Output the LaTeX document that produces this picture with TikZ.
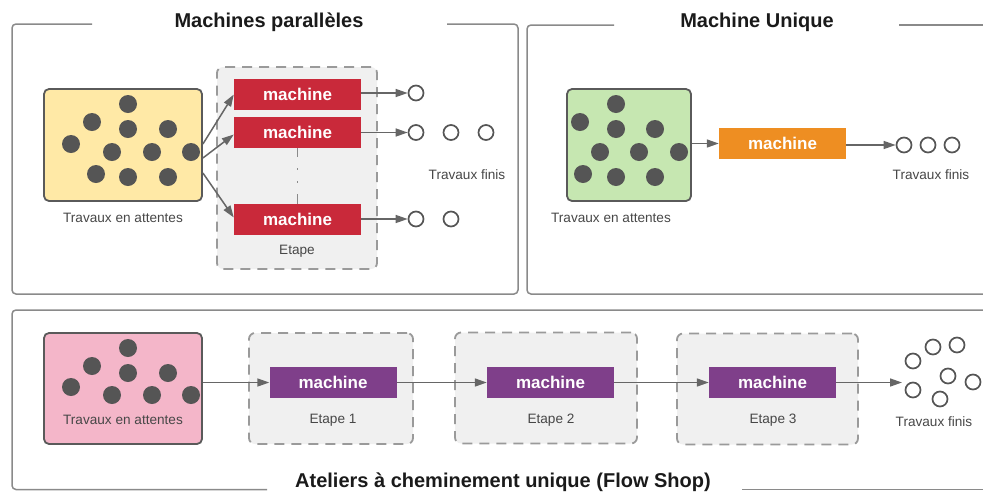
\documentclass[tikz,border=0pt]{standalone}
\usepackage{fontspec}
\setmainfont{Liberation Sans}
\usetikzlibrary{arrows.meta}
\definecolor{framegray}{HTML}{8A8A8A}
\definecolor{boxborder}{HTML}{5A5A5A}
\definecolor{dotgray}{HTML}{555555}
\definecolor{arrowgray}{HTML}{666666}
\definecolor{dashgray}{HTML}{9A9A9A}
\definecolor{stagefill}{HTML}{F0F0F0}
\definecolor{qyellow}{HTML}{FFE9A6}
\definecolor{qgreen}{HTML}{C6E7B1}
\definecolor{qpink}{HTML}{F4B6C9}
\definecolor{mred}{HTML}{C9293A}
\definecolor{morange}{HTML}{EE8E22}
\definecolor{mpurple}{HTML}{7F3F8A}
\definecolor{labelgray}{HTML}{474747}
\definecolor{titleblack}{HTML}{1A1A1A}
\tikzset{
  panel/.style={draw=framegray, line width=1.5pt, rounded corners=4pt},
  queue/.style={draw=boxborder, line width=1.8pt, rounded corners=5pt, inner sep=0pt},
  stagebox/.style={draw=dashgray, fill=stagefill, line width=1.8pt, dash pattern=on 10pt off 7pt, rounded corners=6pt, inner sep=0pt},
  mach/.style={text=white, font=\fontsize{17}{20}\selectfont\bfseries, minimum width=127pt, minimum height=31pt, inner sep=0pt},
  job/.style={circle, fill=dotgray, minimum size=18pt, inner sep=0pt},
  done/.style={circle, draw=dotgray, fill=white, line width=1.7pt, minimum size=15pt, inner sep=0pt},
  arr/.style={draw=arrowgray, line width=1.5pt, -{Triangle[length=12pt,width=8pt]}},
  lbl/.style={text=labelgray, font=\fontsize{13.6}{16}\selectfont, inner sep=0pt},
  ttl/.style={text=titleblack, font=\fontsize{20}{24}\selectfont\bfseries, inner sep=0pt},
}
\begin{document}
\begin{tikzpicture}[x=1pt, y=-1pt]
\useasboundingbox (0,0) rectangle (983,491);

% ---------- Panel 1: Machines parallèles ----------
\draw[panel] (92,24) -- (12,24) -- (12,294) -- (518,294) -- (518,24) -- (447,24);
\node[ttl] (t1) at (269,22) {Machines parallèles};

\node[queue, fill=qyellow, minimum width=158pt, minimum height=112pt] (yq) at (123,145) {};
\foreach \x/\y [count=\i] in {128/104,92/122,128/129,168/129,71/144,112/152,152/152,191/152,96/174,128/177,168/177}
  \node[job] (yj\i) at (\x,\y) {};
\node[lbl] (yl) at (123,218) {Travaux en attentes};

\node[stagebox, minimum width=160pt, minimum height=202pt] (st0) at (297,168) {};
\node[mach, fill=mred] (m1) at (297.5,94.5) {machine};
\node[mach, fill=mred] (m2) at (297.5,132.5) {machine};
\node[mach, fill=mred] (m3) at (297.5,219.5) {machine};
\draw[draw=framegray, line width=1.6pt, dash pattern=on 9pt off 11pt on 2pt off 11pt on 2pt off 11pt on 10pt] (m2.south) -- (m3.north);
\node[lbl] (el0) at (297,251) {Etape};

\node[done] (c11) at (416,93) {};
\node[done] (c21) at (416,132.5) {};
\node[done] (c22) at (451,132.5) {};
\node[done] (c23) at (486,132.5) {};
\node[done] (c31) at (416,219) {};
\node[done] (c32) at (451,219) {};
\node[lbl] (fl1) at (467,175) {Travaux finis};

\draw[arr] ([yshift=1pt]yq.east) -- ([yshift=0pt]m1.west);
\draw[arr] ([yshift=-13pt]yq.east) -- ([yshift=-2pt]m2.west);
\draw[arr] ([yshift=-28pt]yq.east) -- ([yshift=2pt]m3.west);
\draw[arr] (m1.east |- c11) -- (c11.west);
\draw[arr] (m2.east |- c21) -- (c21.west);
\draw[arr] (m3.east |- c31) -- (c31.west);

% ---------- Panel 2: Machine Unique ----------
\draw[panel] (614,25) -- (527,25) -- (527,294) -- (995,294);
\draw[draw=framegray, line width=1.5pt] (899,25) -- (995,25);
\node[ttl] (t2) at (757,22) {Machine Unique};

\node[queue, fill=qgreen, minimum width=124pt, minimum height=112pt] (gq) at (629,145) {};
\foreach \x/\y [count=\i] in {616/104,580/122,616/129,655/129,600/152,639/152,679/152,583/174,616/177,655/177}
  \node[job] (gj\i) at (\x,\y) {};
\node[lbl] (gl) at (611,218) {Travaux en attentes};

\node[mach, fill=morange] (om) at (782.5,143.5) {machine};
\node[done] (d1) at (904,145) {};
\node[done] (d2) at (928,145) {};
\node[done] (d3) at (952,145) {};
\node[lbl] (fl2) at (931,175) {Travaux finis};

\draw[arr] (gq.east |- om.west) -- (om.west);
\draw[arr] (om.east |- d1) -- (d1.west);

% ---------- Panel 3: Flow Shop ----------
\draw[panel] (995,310) -- (12,310) -- (12,489.5) -- (267,489.5);
\draw[draw=framegray, line width=1.5pt] (742,489.5) -- (995,489.5);
\node[ttl] (t3) at (503,482) {Ateliers à cheminement unique (Flow Shop)};

\node[queue, fill=qpink, minimum width=158pt, minimum height=111pt] (pq) at (123,388.5) {};
\foreach \x/\y [count=\i] in {128/348,92/366,128/373,168/373,71/387,112/395,152/395,191/395}
  \node[job] (pj\i) at (\x,\y) {};
\node[lbl] (pl) at (123,420) {Travaux en attentes};

\node[stagebox, minimum width=164pt, minimum height=111pt] (st1) at (331,388.5) {};
\node[stagebox, minimum width=182pt, minimum height=111pt] (st2) at (546,388) {};
\node[stagebox, minimum width=181pt, minimum height=111pt] (st3) at (767.5,389) {};
\node[mach, fill=mpurple] (p1) at (333,382.5) {machine};
\node[mach, fill=mpurple] (p2) at (550.5,382.5) {machine};
\node[mach, fill=mpurple] (p3) at (772.5,382.5) {machine};
\node[lbl] (e1) at (333,420) {Etape 1};
\node[lbl] (e2) at (551,420) {Etape 2};
\node[lbl] (e3) at (773,420) {Etape 3};

\foreach \x/\y [count=\i] in {913/361,933/347,957/345,948/376,973/382,913/390,940/399}
  \node[done] (f\i) at (\x,\y) {};
\node[lbl] (fl3) at (934,422) {Travaux finis};
\coordinate (fin) at (902,382.5);

\draw[arr] (pq.east |- p1.west) -- (p1.west);
\draw[arr] (p1.east) -- (p2.west);
\draw[arr] (p2.east) -- (p3.west);
\draw[arr] (p3.east) -- (fin);
\end{tikzpicture}
\end{document}
